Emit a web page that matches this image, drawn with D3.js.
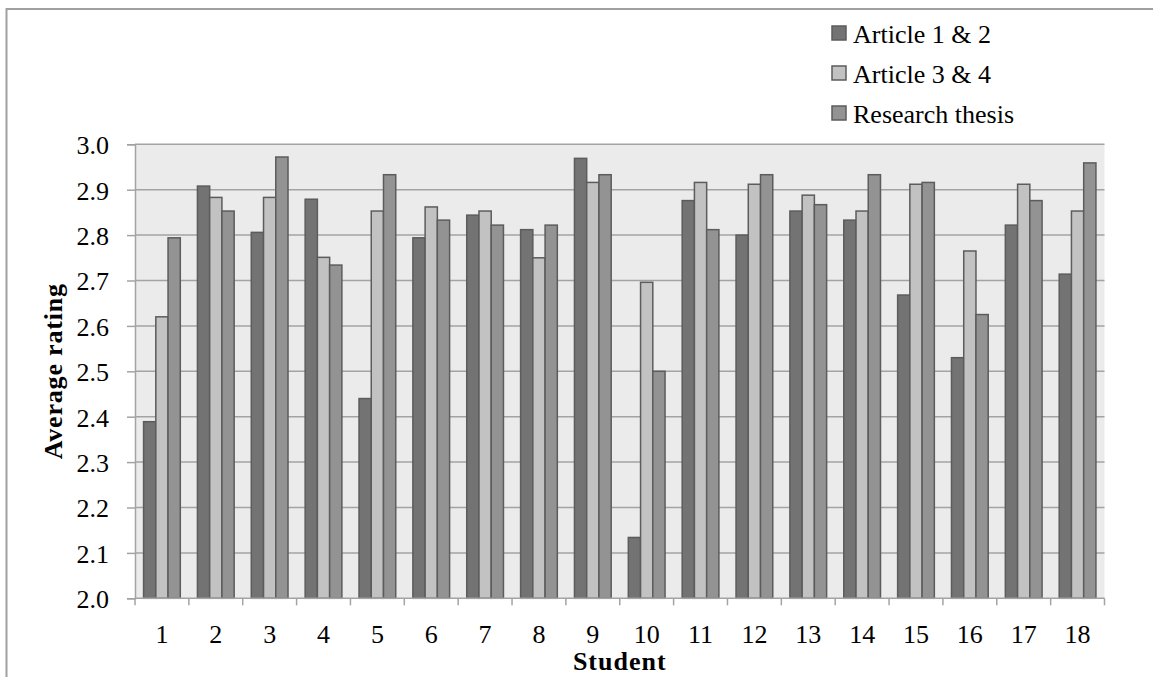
<!DOCTYPE html>
<html>
<head>
<meta charset="utf-8">
<script src="https://cdn.jsdelivr.net/npm/d3@7"></script>
<style>
  html, body { margin: 0; padding: 0; background: #ffffff; }
  svg { display: block; }
  text { font-family: "Liberation Serif", "DejaVu Serif", serif; fill: #000; }
</style>
</head>
<body>
<svg id="chart" width="1153" height="677"></svg>
<script>
// Students on the x axis
const students = ["1","2","3","4","5","6","7","8","9","10","11","12","13","14","15","16","17","18"];

// Series names
const seriesNames = ["Article 1 & 2", "Article 3 & 4", "Research thesis"];

// Average rating per student for each series
const article12 = [2.389, 2.908, 2.806, 2.879, 2.44, 2.794, 2.844, 2.812, 2.969, 2.134, 2.876, 2.80, 2.853, 2.833, 2.668, 2.53, 2.822, 2.714];
const article34 = [2.62, 2.883, 2.883, 2.751, 2.853, 2.862, 2.853, 2.750, 2.916, 2.696, 2.916, 2.912, 2.888, 2.853, 2.912, 2.765, 2.912, 2.853];
const thesis    = [2.794, 2.853, 2.972, 2.734, 2.933, 2.833, 2.822, 2.822, 2.933, 2.50, 2.812, 2.933, 2.867, 2.933, 2.916, 2.625, 2.876, 2.959];

// Y axis tick labels
const yTicks = [2.0, 2.1, 2.2, 2.3, 2.4, 2.5, 2.6, 2.7, 2.8, 2.9, 3.0];

const seriesValues = [article12, article34, thesis];
const fills = ["#737373", "#c2c2c2", "#939393"];
const strokeCol = "#5c5c5c";
const gridCol = "#a3a3a3";

const svg = d3.select("#chart");

// Outer frame (top and left edges)
svg.append("line").attr("x1", 6.5).attr("x2", 1153).attr("y1", 9).attr("y2", 9)
  .attr("stroke", "#a0a0a0").attr("stroke-width", 2);
svg.append("line").attr("x1", 6.5).attr("x2", 6.5).attr("y1", 8).attr("y2", 677)
  .attr("stroke", "#a0a0a0").attr("stroke-width", 2);

const plot = { left: 135, right: 1104.5, top: 144.3, bottom: 598.3 };

const x = d3.scaleBand().domain(students).range([plot.left, plot.right]).paddingInner(0).paddingOuter(0);
const barW = x.bandwidth() / 4.4;
const groupW = barW * 3;
const xSub = d3.scaleBand().domain(d3.range(3)).range([0, groupW]);

const y = d3.scaleLinear().domain([2.0, 3.0]).range([plot.bottom, plot.top]);

// Plot background
svg.append("rect")
  .attr("x", plot.left).attr("y", plot.top)
  .attr("width", plot.right - plot.left).attr("height", plot.bottom - plot.top)
  .attr("fill", "#ebebeb");

// Horizontal gridlines
svg.append("g").selectAll("line").data(yTicks.slice(1)).join("line")
  .attr("x1", plot.left).attr("x2", plot.right)
  .attr("y1", d => y(d)).attr("y2", d => y(d))
  .attr("stroke", gridCol).attr("stroke-width", 1.5);

// Y axis
const yAxis = d3.axisLeft(y).tickValues(yTicks).tickFormat(d3.format(".1f")).tickSize(8).tickPadding(18);
const gy = svg.append("g").attr("transform", `translate(${plot.left},0)`).call(yAxis);
gy.select(".domain").attr("stroke", gridCol).attr("stroke-width", 1.5);
gy.selectAll(".tick line").attr("stroke", gridCol).attr("stroke-width", 1.5);
gy.selectAll(".tick text").attr("font-size", 26).attr("font-family", "Liberation Serif")
  .attr("fill", "#000").attr("dy", "0.36em");

// Bars
const groups = svg.append("g").selectAll("g").data(students).join("g")
  .attr("transform", d => `translate(${x(d) + (x.bandwidth() - groupW) / 2},0)`);
groups.selectAll("rect").data((d, i) => seriesValues.map((s, k) => ({ k, v: s[i] }))).join("rect")
  .attr("x", d => xSub(d.k))
  .attr("y", d => y(d.v))
  .attr("width", xSub.bandwidth())
  .attr("height", d => y(2.0) - y(d.v))
  .attr("fill", d => fills[d.k])
  .attr("stroke", strokeCol).attr("stroke-width", 1.5);

// X axis with ticks on category boundaries
const xb = svg.append("g");
xb.append("line").attr("x1", plot.left).attr("x2", plot.right)
  .attr("y1", plot.bottom).attr("y2", plot.bottom)
  .attr("stroke", gridCol).attr("stroke-width", 1.5);
const boundaries = students.map(s => x(s)).concat([plot.right]);
xb.selectAll("line.tk").data(boundaries).join("line").attr("class", "tk")
  .attr("x1", d => d).attr("x2", d => d)
  .attr("y1", plot.bottom).attr("y2", plot.bottom + 7)
  .attr("stroke", gridCol).attr("stroke-width", 1.5);
xb.selectAll("text").data(students).join("text")
  .attr("x", d => x(d) + x.bandwidth() / 2)
  .attr("y", 643)
  .attr("text-anchor", "middle")
  .attr("font-size", 26)
  .text(d => d);

// Axis titles
svg.append("text")
  .attr("x", (plot.left + plot.right) / 2).attr("y", 670)
  .attr("text-anchor", "middle").attr("font-size", 26).attr("font-weight", "bold")
  .attr("letter-spacing", 1)
  .text("Student");

svg.append("text")
  .attr("transform", `translate(62,${(plot.top + plot.bottom) / 2}) rotate(-90)`)
  .attr("text-anchor", "middle").attr("font-size", 26).attr("font-weight", "bold")
  .attr("letter-spacing", 0.8)
  .text("Average rating");

// Legend
const legend = svg.append("g").attr("transform", "translate(832,26)");
const li = legend.selectAll("g").data(seriesNames).join("g")
  .attr("transform", (d, i) => `translate(0,${i * 40})`);
li.append("rect").attr("x", 0).attr("y", 0).attr("width", 14).attr("height", 14)
  .attr("fill", (d, i) => fills[i]).attr("stroke", strokeCol).attr("stroke-width", 1.5);
li.append("text").attr("x", 21).attr("y", 17).attr("font-size", 26).text(d => d);
</script>
</body>
</html>
